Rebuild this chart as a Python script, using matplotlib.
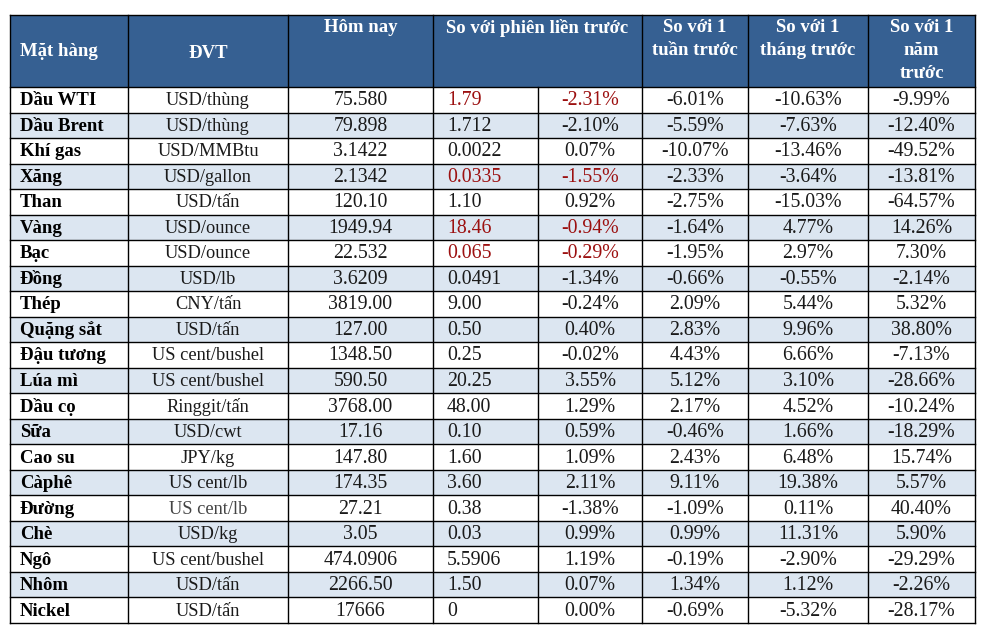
import matplotlib.pyplot as plt
from matplotlib.patches import Rectangle

items = ["Dầu WTI", "Dầu Brent", "Khí gas", "Xăng", "Than", "Vàng", "Bạc", "Đồng",
         "Thép", "Quặng sắt", "Đậu tương", "Lúa mì", "Dầu cọ", "Sữa", "Cao su",
         "Càphê", "Đường", "Chè", "Ngô", "Nhôm", "Nickel"]
units = ["USD/thùng", "USD/thùng", "USD/MMBtu", "USD/gallon", "USD/tấn", "USD/ounce",
         "USD/ounce", "USD/lb", "CNY/tấn", "USD/tấn", "US cent/bushel", "US cent/bushel",
         "Ringgit/tấn", "USD/cwt", "JPY/kg", "US cent/lb", "US cent/lb", "USD/kg",
         "US cent/bushel", "USD/tấn", "USD/tấn"]
today = ["75.580", "79.898", "3.1422", "2.1342", "120.10", "1949.94", "22.532", "3.6209",
         "3819.00", "127.00", "1348.50", "590.50", "3768.00", "17.16", "147.80", "174.35",
         "27.21", "3.05", "474.0906", "2266.50", "17666"]
chg_abs = ["1.79", "1.712", "0.0022", "0.0335", "1.10", "18.46", "0.065", "0.0491",
           "9.00", "0.50", "0.25", "20.25", "48.00", "0.10", "1.60", "3.60", "0.38",
           "0.03", "5.5906", "1.50", "0"]
chg_pct = ["-2.31%", "-2.10%", "0.07%", "-1.55%", "0.92%", "-0.94%", "-0.29%", "-1.34%",
           "-0.24%", "0.40%", "-0.02%", "3.55%", "1.29%", "0.59%", "1.09%", "2.11%",
           "-1.38%", "0.99%", "1.19%", "0.07%", "0.00%"]
week = ["-6.01%", "-5.59%", "-10.07%", "-2.33%", "-2.75%", "-1.64%", "-1.95%", "-0.66%",
        "2.09%", "2.83%", "4.43%", "5.12%", "2.17%", "-0.46%", "2.43%", "9.11%", "-1.09%",
        "0.99%", "-0.19%", "1.34%", "-0.69%"]
month = ["-10.63%", "-7.63%", "-13.46%", "-3.64%", "-15.03%", "4.77%", "2.97%", "-0.55%",
         "5.44%", "9.96%", "6.66%", "3.10%", "4.52%", "1.66%", "6.48%", "19.38%", "0.11%",
         "11.31%", "-2.90%", "1.12%", "-5.32%"]
year = ["-9.99%", "-12.40%", "-49.52%", "-13.81%", "-64.57%", "14.26%", "7.30%", "-2.14%",
        "5.32%", "38.80%", "-7.13%", "-28.66%", "-10.24%", "-18.29%", "15.74%", "5.57%",
        "40.40%", "5.90%", "-29.29%", "-2.26%", "-28.17%"]
red_rows = ["Dầu WTI", "Xăng", "Vàng", "Bạc"]

headers = ["Mặt hàng", "ĐVT", "Hôm nay", "So với phiên liền trước",
           "So với 1\ntuần trước", "So với 1\ntháng trước", "So với 1\nnăm\ntrước"]

# layout in pixels
edges = [10, 128, 288, 433, 538, 642, 748, 868, 975]
top, head_bot, bottom = 15, 87, 623
row_h = (bottom - head_bot) / len(items)

HEAD = "#366092"
ALT = "#dce6f1"
RED = "#9c1010"
TXT = "#1a1a1a"

plt.rcParams['font.family'] = ['Liberation Serif', 'DejaVu Serif']
fig = plt.figure(figsize=(9.94, 6.37), dpi=100)
ax = fig.add_axes([0, 0, 1, 1])
ax.set_xlim(0, 994)
ax.set_ylim(637, 0)
ax.axis("off")

ax.add_patch(Rectangle((edges[0], top), edges[-1] - edges[0], head_bot - top,
                       facecolor=HEAD, edgecolor="none"))
for i in range(len(items)):
    if i % 2 == 1:
        ax.add_patch(Rectangle((edges[0], head_bot + i * row_h), edges[-1] - edges[0], row_h,
                               facecolor=ALT, edgecolor="none"))

# grid lines
lw = 1.0
for x in edges:
    if x == edges[4]:
        ax.plot([x, x], [head_bot, bottom], color="black", lw=lw)
    else:
        ax.plot([x, x], [top, bottom], color="black", lw=lw)
ax.plot([edges[0], edges[-1]], [top, top], color="black", lw=lw)
for i in range(len(items) + 1):
    y = head_bot + i * row_h
    ax.plot([edges[0], edges[-1]], [y, y], color="black", lw=lw)

# header text
hs = 13.5
ax.text(edges[0] + 10, 52, headers[0], color="white", fontsize=hs, fontweight="bold",
        ha="left", va="center")
ax.text((edges[1] + edges[2]) / 2, 54, headers[1], color="white", fontsize=hs,
        fontweight="bold", ha="center", va="center")
ax.text((edges[2] + edges[3]) / 2, 19, headers[2], color="white", fontsize=hs,
        fontweight="bold", ha="center", va="top")
ax.text((edges[3] + edges[5]) / 2, 19, headers[3], color="white", fontsize=hs,
        fontweight="bold", ha="center", va="top")
for k, h in enumerate(headers[4:]):
    ax.text((edges[5 + k] + edges[6 + k]) / 2, 19, h, color="white", fontsize=hs,
            fontweight="bold", ha="center", va="top", linespacing=1.45)

ds = 14.3
for i in range(len(items)):
    yc = head_bot + (i + 0.5) * row_h + 1
    red = items[i] in red_rows
    ax.text(edges[0] + 10, yc, items[i], color="black", fontsize=13.5, fontweight="bold",
            ha="left", va="center")
    ax.text((edges[1] + edges[2]) / 2, yc, units[i],
            color="#444444" if items[i] == "Đường" else TXT, fontsize=13.2,
            ha="center", va="center")
    ax.text((edges[2] + edges[3]) / 2, yc, today[i], color=TXT, fontsize=ds,
            ha="center", va="center")
    ax.text(edges[3] + 14, yc, chg_abs[i], color=RED if red else TXT, fontsize=ds,
            ha="left", va="center")
    ax.text((edges[4] + edges[5]) / 2, yc, chg_pct[i], color=RED if red else TXT,
            fontsize=ds, ha="center", va="center")
    for k, col in enumerate([week, month, year]):
        ax.text((edges[5 + k] + edges[6 + k]) / 2, yc, col[i], color=TXT, fontsize=ds,
                ha="center", va="center")

fig.savefig("out.png", dpi=100)
